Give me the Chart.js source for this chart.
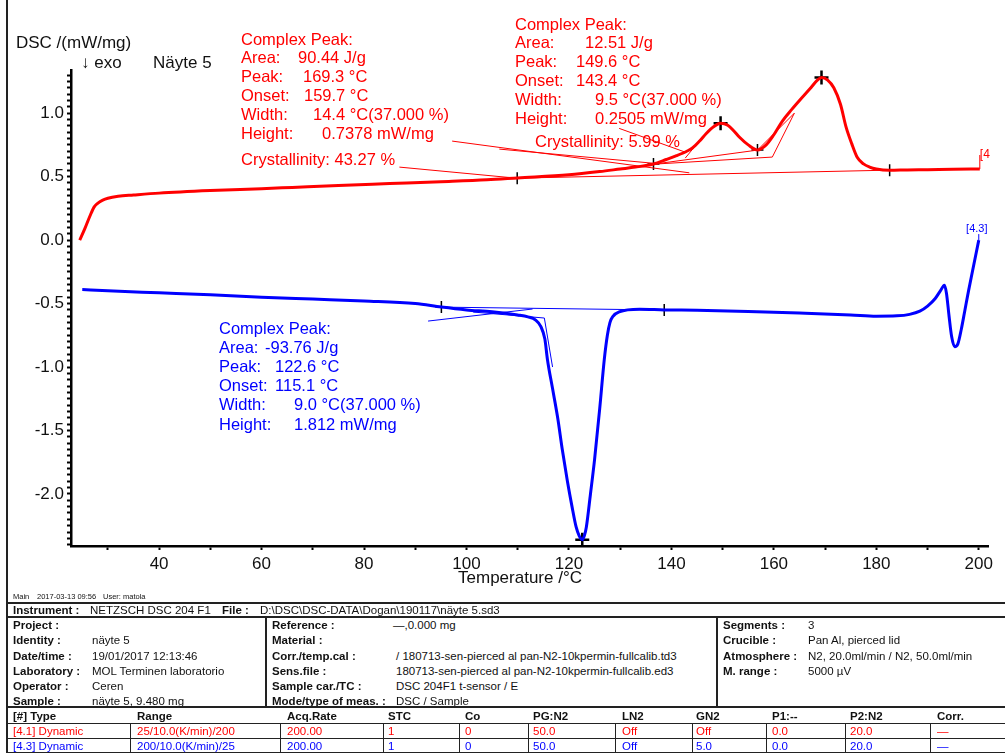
<!DOCTYPE html>
<html>
<head>
<meta charset="utf-8">
<script src="https://cdn.jsdelivr.net/npm/chart.js@4.4.1/dist/chart.umd.min.js"></script>
<style>
body { margin: 0; background: #fff; font-family: "Liberation Sans", Arial, sans-serif; }
#page { position: relative; width: 1005px; height: 753px; overflow: hidden; }
#dsc { position: absolute; left: 0; top: 0; }
.t { position: absolute; font-size: 11.5px; line-height: 13px; white-space: nowrap; color: #111; transform: translateY(-50%); }
.b { font-weight: bold; }
.s { font-size: 7.5px; }
.ln { position: absolute; background: #222; }
</style>
</head>
<body>
<div id="page">
  <canvas id="dsc" width="1005" height="590"></canvas>
  <div id="info"></div>
</div>
<script>
const FONT = '"Liberation Sans", Arial, sans-serif';
const RED = '#ff0000';
const BLUE = '#0000ff';

// segment [4.1] heating 25 -> 200 °C
const redTemp = [24.5, 25.5, 26.5, 27.3, 28, 29, 30, 32, 35, 40, 50, 60, 66, 75, 85, 95, 104, 110, 120, 126,
  130, 133, 136.5, 139, 141, 143, 144.1, 145.5, 146.8, 148.3, 149.6, 151, 152.2, 153.3, 155, 156.8, 158.5, 160, 161.7, 163.5,
  165, 167, 168.5, 169.3, 170.5, 171.7, 173, 174.1, 175.2, 176.3, 177.5, 178.7, 180, 182.6, 186, 190, 195, 200.2];
const redDsc = [0.0, 0.09, 0.19, 0.26, 0.29, 0.315, 0.33, 0.345, 0.355, 0.37, 0.39, 0.405, 0.415, 0.43, 0.445, 0.46, 0.475, 0.49, 0.515, 0.54,
  0.56, 0.575, 0.60, 0.635, 0.665, 0.70, 0.725, 0.78, 0.84, 0.895, 0.92, 0.905, 0.86, 0.81, 0.75, 0.71, 0.75, 0.83, 0.94, 1.03,
  1.10, 1.19, 1.26, 1.28, 1.26, 1.20, 1.07, 0.89, 0.76, 0.65, 0.60, 0.575, 0.56, 0.55, 0.553, 0.555, 0.558, 0.56];

// segment [4.3] cooling 200 -> 25 °C
const blueTemp = [25, 30, 40, 50, 60, 70, 80, 90, 95.1, 100, 105, 110, 112, 113.5, 114.5, 115.3, 115.8, 116.8, 117.8, 118.7,
  119.7, 120.6, 121.4, 122, 122.6, 123, 123.4, 124.2, 125, 126, 126.9, 127.5, 128, 128.6, 129.8, 133.8, 138.6, 145, 155, 165,
  175, 180, 184, 186.5, 188.5, 190, 191.5, 192.5, 193.3, 193.7, 194.2, 194.7, 195.3, 195.9, 196.6, 197.3, 198, 198.8, 199.5, 200];
const blueDsc = [-0.39, -0.40, -0.415, -0.43, -0.45, -0.465, -0.48, -0.50, -0.528, -0.55, -0.565, -0.59, -0.605, -0.63, -0.68, -0.78, -0.94, -1.17, -1.40, -1.65,
  -1.90, -2.10, -2.26, -2.33, -2.36, -2.33, -2.26, -2.00, -1.73, -1.33, -0.94, -0.75, -0.65, -0.60, -0.565, -0.545, -0.55, -0.553, -0.562, -0.575,
  -0.59, -0.60, -0.597, -0.585, -0.56, -0.52, -0.46, -0.40, -0.355, -0.42, -0.60, -0.76, -0.84, -0.82, -0.70, -0.55, -0.40, -0.24, -0.10, 0.0];

// evaluation baselines, onset tangents and label leaders: [[T, dsc], [T, dsc]]
const redGuides = [
  [[86.9, 0.575], [109.7, 0.488]],
  [[97.2, 0.78], [143.5, 0.53]],
  [[106.4, 0.717], [136.3, 0.606]],
  [[129.8, 0.88], [142.9, 0.69]],
  [[109.9, 0.488], [182.6, 0.551]],
  [[136.5, 0.598], [156.8, 0.709]],
  [[136.5, 0.598], [159.7, 0.654]],
  [[159.7, 0.654], [164.0, 1.0]],
  [[156.8, 0.709], [164.0, 1.0]],
  [[142.7, 0.646], [146.4, 0.827]]
];
const blueGuides = [
  [[95.1, -0.528], [138.6, -0.551]],
  [[92.5, -0.638], [112.9, -0.543]],
  [[101.3, -0.567], [115.2, -0.614]],
  [[115.2, -0.614], [116.8, -1.0]]
];

// evaluation points
const peakMarks = [[149.6, 0.92], [169.3, 1.28], [122.6, -2.36]];
const limitMarks = [[109.9, 0.488], [136.5, 0.60], [156.8, 0.71], [182.6, 0.55], [95.1, -0.528], [138.6, -0.55]];

const xTicks = [40, 60, 80, 100, 120, 140, 160, 180, 200];
const yTicks = [-2.0, -1.5, -1.0, -0.5, 0.0, 0.5, 1.0];

const peakHeat = [['Complex Peak:', ''], ['Area:', '90.44 J/g'], ['Peak:', '169.3 °C'], ['Onset:', '159.7 °C'],
  ['Width:', '14.4 °C(37.000 %)'], ['Height:', '0.7378 mW/mg']];
const peakHeatSmall = [['Complex Peak:', ''], ['Area:', '12.51 J/g'], ['Peak:', '149.6 °C'], ['Onset:', '143.4 °C'],
  ['Width:', '9.5 °C(37.000 %)'], ['Height:', '0.2505 mW/mg']];
const peakCool = [['Complex Peak:', ''], ['Area:', '-93.76 J/g'], ['Peak:', '122.6 °C'], ['Onset:', '115.1 °C'],
  ['Width:', '9.0 °C(37.000 %)'], ['Height:', '1.812 mW/mg']];

const infoLeft = [['Project :', ''], ['Identity :', 'näyte 5'], ['Date/time :', '19/01/2017 12:13:46'],
  ['Laboratory :', 'MOL Terminen laboratorio'], ['Operator :', 'Ceren'], ['Sample :', 'näyte 5, 9.480 mg']];
const infoMid = [['Reference :', '—,0.000 mg'], ['Material :', ''],
  ['Corr./temp.cal :', '/ 180713-sen-pierced al pan-N2-10kpermin-fullcalib.td3'],
  ['Sens.file :', '180713-sen-pierced al pan-N2-10kpermin-fullcalib.ed3'],
  ['Sample car./TC :', 'DSC 204F1 t-sensor / E'], ['Mode/type of meas. :', 'DSC / Sample']];
const infoRight = [['Segments :', '3'], ['Crucible :', 'Pan Al, pierced lid'],
  ['Atmosphere :', 'N2, 20.0ml/min / N2, 50.0ml/min'], ['M. range :', '5000 µV']];
const segHeader = ['[#] Type', 'Range', 'Acq.Rate', 'STC', 'Co', 'PG:N2', 'LN2', 'GN2', 'P1:--', 'P2:N2', 'Corr.'];
const segRows = [
  ['[4.1] Dynamic', '25/10.0(K/min)/200', '200.00', '1', '0', '50.0', 'Off', 'Off', '0.0', '20.0', '—'],
  ['[4.3] Dynamic', '200/10.0(K/min)/25', '200.00', '1', '0', '50.0', 'Off', '5.0', '0.0', '20.0', '—']
];

const pts = (xs, ys) => xs.map((x, i) => ({ x: x, y: ys[i] }));

// tick positions: every 10 °C on x, every 0.05 on y (labels only on the major ones)
function stepTicks(from, to, step, scale) {
  const out = [];
  for (let k = Math.round(from / step); k <= Math.round(to / step); k++) out.push({ value: +(k * step).toFixed(4) });
  scale.ticks = out;
}

function guideSets(guides, color) {
  return guides.map(g => ({
    data: g.map(p => ({ x: p[0], y: p[1] })),
    borderColor: color, borderWidth: 1, pointRadius: 0, tension: 0
  }));
}

function drawBlock(ctx, rows, x, y, step, offs, color) {
  ctx.fillStyle = color;
  rows.forEach((r, i) => {
    ctx.fillText(r[0], x, y + i * step);
    if (r[1]) ctx.fillText(r[1], x + offs[i], y + i * step);
  });
}

const notes = {
  id: 'notes',
  afterDraw(chart) {
    const ctx = chart.ctx;
    const xs = chart.scales.x, ys = chart.scales.y;
    ctx.save();
    ctx.textBaseline = 'middle';
    ctx.font = '17px ' + FONT;
    ctx.fillStyle = '#111';
    ctx.fillText('DSC /(mW/mg)', 16, 43);
    ctx.fillText('↓ exo', 81, 63);
    ctx.fillText('Näyte 5', 153, 63);
    ctx.textAlign = 'center';
    ctx.fillText('Temperature /°C', 520, 578);
    ctx.textAlign = 'left';

    ctx.font = '16.5px ' + FONT;
    drawBlock(ctx, peakHeat, 241, 40, 18.8, [0, 57, 62, 63, 72, 81], RED);
    ctx.fillText('Crystallinity: 43.27 %', 241, 160);
    drawBlock(ctx, peakHeatSmall, 515, 25, 18.8, [0, 70, 61, 61, 80, 80], RED);
    ctx.fillText('Crystallinity: 5.99 %', 535, 142);
    drawBlock(ctx, peakCool, 219, 329, 19.2, [0, 46, 56, 56, 75, 75], BLUE);

    // segment tags at the curve ends
    const rEnd = { x: xs.getPixelForValue(redTemp[redTemp.length - 1]), y: ys.getPixelForValue(redDsc[redDsc.length - 1]) };
    const bEnd = { x: xs.getPixelForValue(blueTemp[blueTemp.length - 1]), y: ys.getPixelForValue(blueDsc[blueDsc.length - 1]) };
    ctx.lineWidth = 1;
    ctx.strokeStyle = RED;
    ctx.beginPath(); ctx.moveTo(rEnd.x, rEnd.y); ctx.lineTo(rEnd.x, rEnd.y - 14); ctx.stroke();
    ctx.font = '12px ' + FONT;
    ctx.fillStyle = RED;
    ctx.fillText('[4', rEnd.x, rEnd.y - 14);
    ctx.strokeStyle = BLUE;
    ctx.beginPath(); ctx.moveTo(bEnd.x, bEnd.y); ctx.lineTo(bEnd.x, bEnd.y - 6); ctx.stroke();
    ctx.font = '11px ' + FONT;
    ctx.fillStyle = BLUE;
    ctx.textAlign = 'center';
    ctx.fillText('[4.3]', bEnd.x - 2, bEnd.y - 11);
    ctx.restore();
  }
};

const tickGrid = {
  display: true, drawOnChartArea: false, drawTicks: true, tickLength: 4,
  tickColor: '#000', tickWidth: 2
};

new Chart(document.getElementById('dsc'), {
  type: 'line',
  data: {
    datasets: [
      ...guideSets(redGuides, RED),
      ...guideSets(blueGuides, BLUE),
      { data: pts(redTemp, redDsc), borderColor: RED, borderWidth: 3, pointRadius: 0, cubicInterpolationMode: 'monotone' },
      { data: pts(blueTemp, blueDsc), borderColor: BLUE, borderWidth: 3, pointRadius: 0, cubicInterpolationMode: 'monotone' },
      { data: limitMarks.map(p => ({ x: p[0], y: p[1] })), showLine: false, pointStyle: 'cross',
        pointRadius: 6, borderColor: '#000', borderWidth: 1.5 },
      { data: peakMarks.map(p => ({ x: p[0], y: p[1] })), showLine: false, pointStyle: 'cross',
        pointRadius: 7, borderColor: '#000', borderWidth: 2.5 }
    ]
  },
  options: {
    responsive: false,
    animation: false,
    layout: { padding: { left: 6, top: 70, right: 17, bottom: 0 } },
    plugins: { legend: { display: false }, tooltip: { enabled: false } },
    scales: {
      x: {
        type: 'linear', min: 22.8, max: 201.8,
        border: { display: true, color: '#000', width: 2.5 },
        grid: tickGrid,
        afterBuildTicks: s => stepTicks(30, 200, 10, s),
        ticks: {
          autoSkip: false, maxRotation: 0, padding: 4,
          color: '#111', font: { size: 17, family: FONT },
          callback: v => xTicks.includes(v) ? String(v) : ''
        },
        afterFit: s => { s.height = 44; s.paddingLeft = 0; s.paddingRight = 0; }
      },
      y: {
        type: 'linear', min: -2.41, max: 1.34,
        border: { display: true, color: '#000', width: 2.5 },
        grid: tickGrid,
        afterBuildTicks: s => stepTicks(-2.4, 1.3, 0.05, s),
        ticks: {
          autoSkip: false, padding: 3,
          color: '#111', font: { size: 17, family: FONT },
          callback: v => {
            const lab = yTicks.find(t => Math.abs(t - v) < 1e-6);
            return lab !== undefined ? lab.toFixed(1) : '';
          }
        },
        afterFit: s => { s.width = 65; s.paddingTop = 0; s.paddingBottom = 0; }
      }
    }
  },
  plugins: [notes]
});

// instrument and segment table under the plot
const info = document.getElementById('info');
function txt(s, x, y, cls, color) {
  const d = document.createElement('div');
  d.className = 't' + (cls ? ' ' + cls : '');
  d.style.left = x + 'px';
  d.style.top = y + 'px';
  if (color) d.style.color = color;
  d.textContent = s;
  info.appendChild(d);
  return d;
}
function rule(x, y, w, h) {
  const d = document.createElement('div');
  d.className = 'ln';
  Object.assign(d.style, { left: x + 'px', top: y + 'px', width: w + 'px', height: h + 'px' });
  info.appendChild(d);
}

rule(6, 0, 2, 753);
txt('Main', 13, 596, 's');
txt('2017-03-13 09:56', 37, 596, 's');
txt('User: matola', 103, 596, 's');
rule(8, 602, 997, 2);
txt('Instrument :', 13, 610, 'b');
txt('NETZSCH DSC 204 F1', 90, 610);
txt('File :', 222, 610, 'b');
txt('D:\\DSC\\DSC-DATA\\Dogan\\190117\\näyte 5.sd3', 260, 610);
rule(8, 616, 997, 2);
rule(265, 616, 2, 92);
rule(716, 616, 2, 92);
const rowY = [625, 640, 656, 671, 686, 701];
infoLeft.forEach((r, i) => { txt(r[0], 13, rowY[i], 'b'); txt(r[1], 92, rowY[i]); });
infoMid.forEach((r, i) => { txt(r[0], 272, rowY[i], 'b'); txt(r[1], i === 0 ? 393 : 396, rowY[i]); });
infoRight.forEach((r, i) => { txt(r[0], 723, rowY[i], 'b'); txt(r[1], 808, rowY[i]); });
rule(8, 706, 997, 2);
const colX = [13, 137, 287, 388, 465, 533, 622, 696, 772, 850, 937];
segHeader.forEach((h, i) => txt(h, colX[i], 716, 'b'));
rule(8, 723, 997, 1);
segRows.forEach((r, k) => {
  const y = k === 0 ? 731 : 746;
  r.forEach((c, i) => txt(c, colX[i], y, '', k === 0 ? RED : BLUE));
});
rule(8, 738, 997, 1);
rule(8, 752, 997, 1);
[130, 280, 383, 459, 528, 615, 692, 766, 845, 930].forEach(x => rule(x, 723, 1, 30));
</script>
</body>
</html>
